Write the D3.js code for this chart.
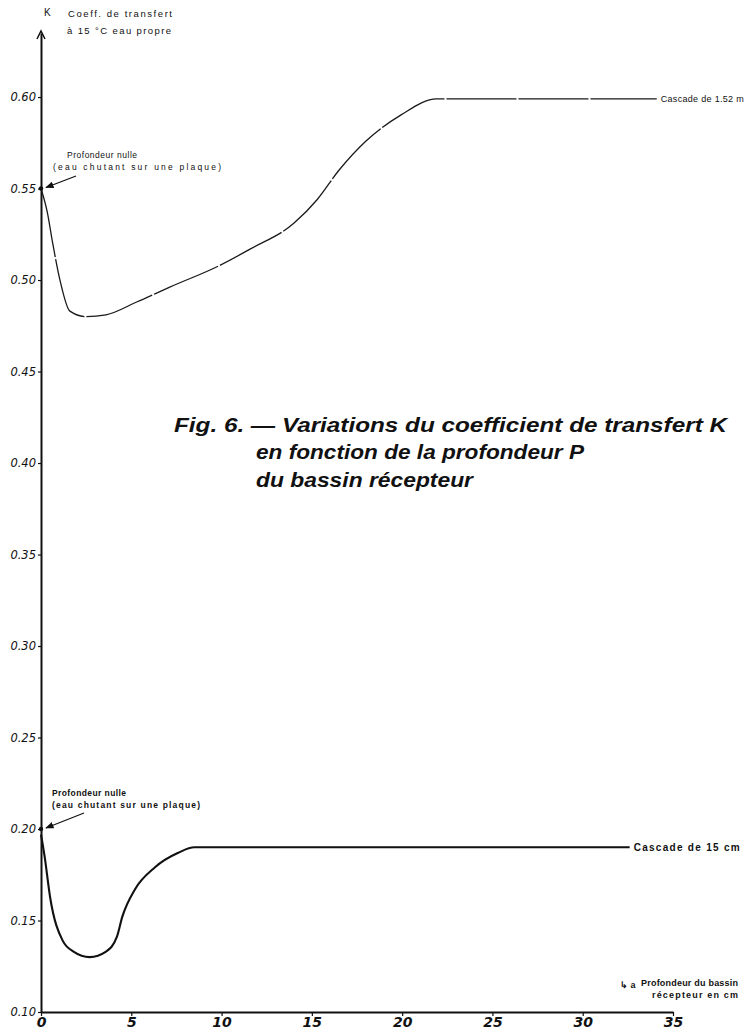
<!DOCTYPE html>
<html><head><meta charset="utf-8">
<script src="https://cdn.jsdelivr.net/npm/d3@7/dist/d3.min.js"></script>
<style>
html,body{margin:0;padding:0;background:#fff;}
svg{display:block;}
text{fill:#111;}
</style></head>
<body>
<svg id="c" width="745" height="1033"></svg>
<script>
// ---- data ----
const upperP = [0, 0.35, 0.65, 1.05, 1.6, 2.5, 3.6, 5.3, 7.1, 9.9, 11.6, 14.0, 15.3, 16.5, 18.0, 19.9, 21.9, 34.1];
const upperK = [0.550, 0.537, 0.520, 0.500, 0.483, 0.480, 0.481, 0.488, 0.496, 0.508, 0.517, 0.531, 0.544, 0.560, 0.576, 0.590, 0.599, 0.599];
const lowerP = [0, 0.2, 0.5, 1.2, 1.8, 2.7, 3.6, 4.2, 4.5, 5.2, 6.3, 7.6, 8.5, 32.6];
const lowerK = [0.197, 0.185, 0.163, 0.139, 0.133, 0.130, 0.133, 0.141, 0.152, 0.167, 0.179, 0.187, 0.190, 0.190];
const yTicks = [0.10, 0.15, 0.20, 0.25, 0.30, 0.35, 0.40, 0.45, 0.50, 0.55, 0.60];
const yTickLabels = ["0.10", "0.15", "0.20", "0.25", "0.30", "0.35", "0.40", "0.45", "0.50", "0.55", "0.60"];
const xTicks = [0, 5, 10, 15, 20, 25, 30, 35];
const xTickLabels = ["0", "5", "10", "15", "20", "25", "30", "35"];
const seriesNames = ["Cascade de 1.52 m", "Cascade de 15 cm"];
const titleLines = ["Fig. 6. — Variations du coefficient de transfert K", "en fonction de la profondeur P", "du bassin récepteur"];

// ---- scales ----
const svg = d3.select("#c");
const x = d3.scaleLinear().domain([0, 35]).range([41, 673]);
const y = d3.scaleLinear().domain([0.10, 0.635]).range([1012, 33]);

// ---- axes ----
const yAxis = d3.axisLeft(y).tickValues(yTicks).tickSize(3).tickSizeOuter(0)
  .tickFormat((d, i) => yTickLabels[i]);
const gy = svg.append("g").attr("transform", `translate(${x(0)},0)`).call(yAxis);
gy.select(".domain").attr("stroke", "#111").attr("stroke-width", 2);
gy.selectAll(".tick line").attr("stroke", "#111").attr("stroke-width", 1.2);
gy.selectAll(".tick text").attr("font-family", "DejaVu Sans, sans-serif")
  .attr("font-size", 11.5).attr("font-style", "italic").attr("fill", "#111").attr("x", -5);

const xAxis = d3.axisBottom(x).tickValues(xTicks).tickSize(4).tickSizeOuter(0)
  .tickFormat((d, i) => xTickLabels[i]);
const gx = svg.append("g").attr("transform", `translate(0,${y(0.10)})`).call(xAxis);
gx.select(".domain").attr("stroke", "#111").attr("stroke-width", 2);
gx.selectAll(".tick line").attr("stroke", "#111").attr("stroke-width", 1.2);
gx.selectAll(".tick text").attr("font-family", "DejaVu Sans, sans-serif")
  .attr("font-size", 14).attr("font-weight", "bold").attr("font-style", "italic")
  .attr("fill", "#111").attr("dy", "0.6em");

// ---- lines ----
const line = d3.line().x(d => x(d[0])).y(d => y(d[1])).curve(d3.curveMonotoneX);
const upper = upperP.map((p, i) => [p, upperK[i]]);
const lower = lowerP.map((p, i) => [p, lowerK[i]]);
svg.append("path").datum(upper).attr("d", line).attr("fill", "none")
  .attr("stroke", "#1a1a1a").attr("stroke-width", 1.3).attr("stroke-dasharray", "70 2");
svg.append("path").datum(lower).attr("d", line).attr("fill", "none")
  .attr("stroke", "#111").attr("stroke-width", 2.1);

// series labels
const sans = "Liberation Sans, Arial, sans-serif";
svg.append("text").attr("x", x(upperP[upperP.length - 1]) + 4).attr("y", y(upperK[upperK.length - 1]) + 3)
  .attr("font-family", sans).attr("font-size", 9).attr("textLength", 83).text(seriesNames[0]);
svg.append("text").attr("x", x(lowerP[lowerP.length - 1]) + 4).attr("y", y(lowerK[lowerK.length - 1]) + 3.5)
  .attr("font-family", sans).attr("font-size", 10).attr("font-weight", "bold").attr("textLength", 106).text(seriesNames[1]);

// ---- axis titles ----
svg.append("text").attr("x", 44).attr("y", 16).attr("font-family", sans).attr("font-size", 10).text("K");
svg.append("text").attr("x", 68).attr("y", 17).attr("font-family", sans).attr("font-size", 9.5).attr("textLength", 104).text("Coeff. de transfert");
svg.append("text").attr("x", 67).attr("y", 34).attr("font-family", sans).attr("font-size", 9.5).attr("textLength", 104).text("à 15 °C eau propre");
// arrow head on top of y axis
svg.append("path").attr("d", `M${x(0)-4},${y(0.635)+6} L${x(0)},${y(0.635)-2} L${x(0)+4},${y(0.635)+6}`)
  .attr("fill", "none").attr("stroke", "#111").attr("stroke-width", 1.5);

svg.append("text").attr("x", 620).attr("y", 988).attr("font-family", sans).attr("font-size", 9).attr("font-weight", "bold").text("↳ a");
svg.append("text").attr("x", 738).attr("y", 986).attr("text-anchor", "end").attr("font-family", sans).attr("font-size", 9).attr("font-weight", "bold").attr("textLength", 97).text("Profondeur du bassin");
svg.append("text").attr("x", 738).attr("y", 998).attr("text-anchor", "end").attr("font-family", sans).attr("font-size", 9).attr("font-weight", "bold").attr("textLength", 86).text("récepteur en cm");

// ---- annotations (Profondeur nulle) ----
const defs = svg.append("defs");
defs.append("marker").attr("id", "ah").attr("viewBox", "0 0 10 10").attr("refX", 9).attr("refY", 5)
  .attr("markerWidth", 7).attr("markerHeight", 7).attr("orient", "auto")
  .append("path").attr("d", "M0,1 L10,5 L0,9 z").attr("fill", "#111");

function annot(k, tx1, tx2, ty, bold, w1, w2, ax, ay) {
  const px = x(0), py = y(k);
  svg.append("circle").attr("cx", px).attr("cy", py).attr("r", 2.2).attr("fill", "#111");
  svg.append("line").attr("x1", ax).attr("y1", ay).attr("x2", px + 5).attr("y2", py - 1)
    .attr("stroke", "#111").attr("stroke-width", 1.2).attr("marker-end", "url(#ah)");
  svg.append("text").attr("x", tx1).attr("y", ty).attr("font-family", sans).attr("font-size", 8.5)
    .attr("font-weight", bold ? "bold" : "normal").attr("textLength", w1).text("Profondeur nulle");
  svg.append("text").attr("x", tx2).attr("y", ty + 12).attr("font-family", sans).attr("font-size", 8.5)
    .attr("font-weight", bold ? "bold" : "normal").attr("textLength", w2).text("(eau chutant sur une plaque)");
}
annot(0.55, 67, 53, 158, false, 70, 168, 76, 176);
annot(0.20, 52, 52, 796, true, 74, 148, 84, 813);

// ---- title ----
const tfont = "Liberation Sans, Arial, Helvetica, sans-serif";
const tl = [[174, 432, 553], [256, 459, 328], [256, 487, 217]];
titleLines.forEach((t, i) => {
  svg.append("text").attr("x", tl[i][0]).attr("y", tl[i][1]).attr("font-family", tfont)
    .attr("font-size", 19.5).attr("font-weight", "bold").attr("font-style", "italic")
    .attr("textLength", tl[i][2]).attr("lengthAdjust", "spacingAndGlyphs").text(t);
});
</script>
</body></html>
